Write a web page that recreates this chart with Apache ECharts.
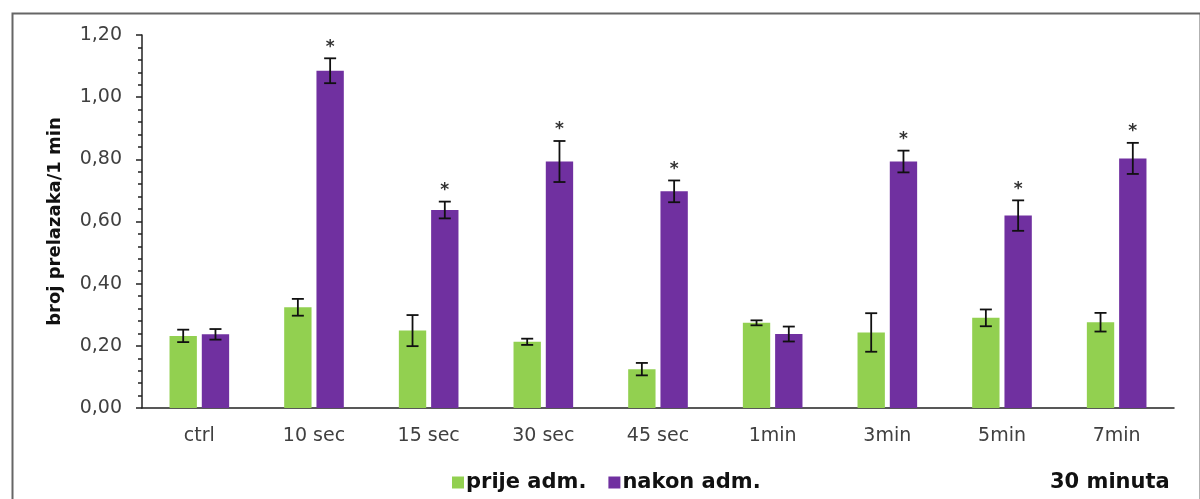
<!DOCTYPE html>
<html>
<head>
<meta charset="utf-8">
<script src="https://cdn.jsdelivr.net/npm/echarts@6/dist/echarts.min.js"></script>
<style>
html,body{margin:0;padding:0;background:#fff;}
#chart{width:1200px;height:499px;}
</style>
</head>
<body>
<div id="chart"></div>
<script>
// ---- data ----
const categories = ['ctrl', '10 sec', '15 sec', '30 sec', '45 sec', '1min', '3min', '5min', '7min'];
const prijeValues = [0.232, 0.324, 0.249, 0.213, 0.125, 0.274, 0.243, 0.290, 0.276];
const prijeErrors = [0.020, 0.027, 0.050, 0.010, 0.020, 0.008, 0.062, 0.027, 0.030];
const nakonValues = [0.237, 1.085, 0.637, 0.793, 0.697, 0.238, 0.793, 0.619, 0.803];
const nakonErrors = [0.017, 0.040, 0.027, 0.066, 0.035, 0.024, 0.035, 0.049, 0.050];
const nakonSignificant = [false, true, true, true, true, false, true, true, true];
const prijeSignificant = [false, false, false, false, false, false, false, false, false];
const seriesNames = ['prije adm.', 'nakon adm.'];
const yTicks = { min: 0, max: 1.2, interval: 0.2 };
const cornerLabel = '30 minuta';

// ---- styling ----
const GREEN = '#92D050';
const PURPLE = '#7030A0';
const FONT = '"DejaVu Sans", Verdana, sans-serif';
const CAT_GAP = 0.48;   // barCategoryGap
const BAR_GAP = 0.18;   // barGap

function errData(vals, errs, sig) {
  return vals.map((v, i) => [i, v, errs[i], sig[i] ? 1 : 0]);
}

function makeErrSeries(name, vals, errs, sig, side) {
  return {
    type: 'custom',
    name: name + ' err',
    z: 5,
    silent: true,
    encode: { x: 0, y: 1 },
    data: errData(vals, errs, sig),
    renderItem: function (params, api) {
      const idx = api.value(0);
      const v = api.value(1);
      const e = api.value(2);
      const s = api.value(3);
      const band = api.size([1, 0])[0];
      const w = band * (1 - CAT_GAP) / (2 + BAR_GAP);
      const off = side * (BAR_GAP * w / 2 + w / 2);
      const top = api.coord([idx, v + e]);
      const bot = api.coord([idx, v - e]);
      const x = top[0] + off;
      const cap = 6;
      const style = { stroke: '#111', lineWidth: 1.8 };
      const children = [
        { type: 'line', shape: { x1: x, y1: top[1], x2: x, y2: bot[1] }, style: style },
        { type: 'line', shape: { x1: x - cap, y1: top[1], x2: x + cap, y2: top[1] }, style: style },
        { type: 'line', shape: { x1: x - cap, y1: bot[1], x2: x + cap, y2: bot[1] }, style: style }
      ];
      if (s) {
        children.push({
          type: 'text',
          style: {
            text: '*', x: x, y: top[1] - 11,
            align: 'center', verticalAlign: 'middle',
            font: 'bold 17px ' + FONT, fill: '#333'
          }
        });
      }
      return { type: 'group', children: children };
    }
  };
}

const chart = echarts.init(document.getElementById('chart'), null, { renderer: 'canvas' });
chart.setOption({
  animation: false,
  backgroundColor: '#fff',
  grid: { left: 142, right: 26, top: 35, bottom: 91, containLabel: false },
  legend: {
    data: seriesNames,
    left: 447,
    top: 467,
    icon: 'rect',
    itemWidth: 12,
    itemHeight: 12,
    itemGap: 22,
    textStyle: { fontFamily: FONT, fontWeight: 'bold', fontSize: 21, color: '#111', padding: [0, 0, 0, -3] }
  },
  xAxis: {
    type: 'category',
    data: categories,
    axisTick: { show: false },
    axisLine: { lineStyle: { color: '#222', width: 1.5 } },
    axisLabel: { fontFamily: FONT, fontSize: 19, color: '#404040', margin: 19 }
  },
  yAxis: {
    type: 'value',
    min: yTicks.min,
    max: yTicks.max,
    interval: yTicks.interval,
    name: 'broj prelazaka/1 min',
    nameLocation: 'middle',
    nameRotate: 90,
    nameGap: 78,
    nameTextStyle: { fontFamily: FONT, fontWeight: 'bold', fontSize: 18, color: '#111' },
    splitLine: { show: false },
    axisLine: { show: true, lineStyle: { color: '#222', width: 1.5 } },
    axisTick: { show: true, inside: false, length: 6, lineStyle: { color: '#222', width: 1.5 } },
    minorTick: { show: true, splitNumber: 5, length: 4, lineStyle: { color: '#222', width: 1.5 } },
    axisLabel: {
      fontFamily: FONT, fontSize: 19, color: '#404040', margin: 20,
      formatter: v => v.toFixed(2).replace('.', ',')
    }
  },
  series: [
    {
      type: 'bar', name: seriesNames[0], data: prijeValues,
      itemStyle: { color: GREEN },
      barCategoryGap: (CAT_GAP * 100) + '%', barGap: (BAR_GAP * 100) + '%'
    },
    {
      type: 'bar', name: seriesNames[1], data: nakonValues,
      itemStyle: { color: PURPLE },
      barCategoryGap: (CAT_GAP * 100) + '%', barGap: (BAR_GAP * 100) + '%'
    },
    makeErrSeries(seriesNames[0], prijeValues, prijeErrors, prijeSignificant, -1),
    makeErrSeries(seriesNames[1], nakonValues, nakonErrors, nakonSignificant, 1)
  ],
  graphic: [
    {
      type: 'rect', left: 10, top: 11, z: 0, silent: true,
      shape: { width: 1188, height: 520 },
      style: { fill: 'none', stroke: '#666', lineWidth: 2 }
    },
    {
      type: 'text', left: 1050, top: 472, z: 10,
      style: { text: cornerLabel, font: 'bold 21px ' + FONT, fill: '#111' }
    }
  ]
});
</script>
</body>
</html>
